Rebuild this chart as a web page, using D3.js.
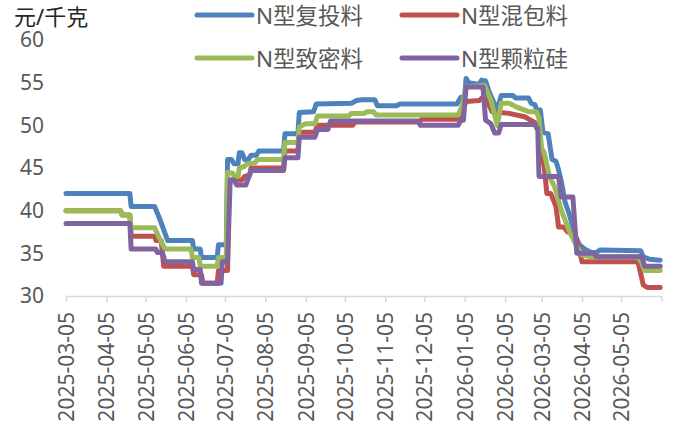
<!DOCTYPE html>
<html>
<head>
<meta charset="utf-8">
<script src="https://cdn.jsdelivr.net/npm/d3@7"></script>
<style>
  html, body { margin: 0; padding: 0; background: #fff; }
  svg text { font-family: "Noto Sans", "Noto Sans CJK SC", sans-serif; }
</style>
</head>
<body>
<svg id="chart" width="675" height="428"></svg>
<script>
// series, [date, price] breakpoints
const fuTouLiao = [
  ["2025-03-05",42],["2025-04-23",42],["2025-04-24",40.5],["2025-05-12",40.5],["2025-05-16",39],
  ["2025-05-22",36.5],["2025-06-10",36.5],["2025-06-11",35.5],["2025-06-16",35.5],["2025-06-17",34.5],
  ["2025-06-29",34.5],["2025-06-30",36],["2025-07-06",36],["2025-07-07",46],["2025-07-10",46],
  ["2025-07-12",45.5],["2025-07-15",45.5],["2025-07-16",46.8],["2025-07-18",46.8],["2025-07-20",46],
  ["2025-07-23",46],["2025-07-25",46.5],["2025-07-29",46.5],["2025-07-31",47],["2025-08-19",47],
  ["2025-08-20",49],["2025-08-30",49],["2025-08-31",51.5],["2025-09-11",51.6],["2025-09-13",52.5],
  ["2025-10-10",52.6],["2025-10-14",52.9],["2025-10-18",53],["2025-10-28",53],["2025-10-30",52.3],
  ["2025-11-14",52.3],["2025-11-16",52.5],["2025-12-30",52.5],["2026-01-02",53.3],["2026-01-05",53.4],
  ["2026-01-06",55.5],["2026-01-08",55],["2026-01-16",54.8],["2026-01-18",55.3],["2026-01-21",55.2],
  ["2026-01-24",53.8],["2026-01-27",52.8],["2026-01-30",51.8],["2026-02-02",53.5],["2026-02-11",53.5],
  ["2026-02-13",53.2],["2026-02-23",53.2],["2026-02-25",52.6],["2026-02-28",52.4],["2026-03-01",51.8],
  ["2026-03-04",51.8],["2026-03-06",49.2],["2026-03-10",49],["2026-03-13",46],["2026-03-16",45.8],
  ["2026-03-18",44.8],["2026-03-20",43.5],["2026-03-23",41],["2026-03-26",39.7],["2026-03-31",37],
  ["2026-04-03",36],["2026-04-07",35.5],["2026-04-12",35.1],["2026-04-16",35.1],["2026-04-19",35.4],
  ["2026-05-20",35.3],["2026-05-22",34.6],["2026-05-27",34.3],["2026-06-04",34.2]
];

const hunBaoLiao = [
  ["2025-03-05",40],["2025-04-16",40],["2025-04-17",39.5],["2025-04-23",39.5],["2025-04-24",37],
  ["2025-05-12",37],["2025-05-13",36.5],["2025-05-17",36.5],["2025-05-19",33.5],["2025-06-10",33.5],
  ["2025-06-11",32.5],["2025-06-17",32.5],["2025-06-18",31.5],["2025-06-29",31.5],["2025-06-30",33],
  ["2025-07-07",33],["2025-07-08",43.6],["2025-07-18",43.6],["2025-07-20",44],["2025-07-24",44.2],
  ["2025-07-25",45],["2025-08-19",45],["2025-08-20",47],["2025-08-30",47],["2025-08-31",49.2],
  ["2025-09-12",49.2],["2025-09-14",50],["2025-10-11",50],["2025-10-13",50.4],["2025-12-01",50.4],
  ["2025-12-03",50.7],["2025-12-31",50.7],["2026-01-02",51.2],["2026-01-06",52.8],["2026-01-16",52.9],
  ["2026-01-19",53.3],["2026-01-21",53.3],["2026-01-26",51.6],["2026-02-08",51.4],["2026-02-20",51],
  ["2026-02-27",50.4],["2026-03-03",50],["2026-03-05",46.3],["2026-03-07",45.2],["2026-03-09",42],
  ["2026-03-12",42],["2026-03-16",40.5],["2026-03-18",38.1],["2026-03-22",38.1],["2026-03-25",37.5],
  ["2026-03-30",37.5],["2026-04-01",36.6],["2026-04-05",34],["2026-05-18",34],["2026-05-22",31.3],
  ["2026-05-25",31],["2026-06-04",31]
];

const zhiMiLiao = [
  ["2025-03-05",40],["2025-04-16",40],["2025-04-17",39.5],["2025-04-23",39.5],["2025-04-24",38],
  ["2025-05-12",38],["2025-05-15",37],["2025-05-20",35.5],["2025-06-09",35.5],["2025-06-10",34.5],
  ["2025-06-15",34.5],["2025-06-16",33.5],["2025-06-29",33.5],["2025-06-30",34.5],["2025-07-06",34.5],
  ["2025-07-07",44.5],["2025-07-11",44.4],["2025-07-12",44],["2025-07-15",44],["2025-07-16",45],
  ["2025-07-20",45.2],["2025-07-22",45.5],["2025-07-28",45.6],["2025-07-30",46],["2025-08-19",46],
  ["2025-08-20",48],["2025-08-30",48],["2025-08-31",49.8],["2025-09-05",50.2],["2025-09-12",50.2],
  ["2025-09-14",51.1],["2025-10-08",51.1],["2025-10-10",51.4],["2025-10-20",51.4],["2025-10-22",51.6],
  ["2025-10-27",51.6],["2025-10-29",51.2],["2025-12-31",51.2],["2026-01-03",52.3],["2026-01-06",54.5],
  ["2026-01-20",54.7],["2026-01-25",53],["2026-01-30",50],["2026-02-02",52.6],["2026-02-08",52.6],
  ["2026-02-13",52.2],["2026-02-23",51.6],["2026-03-01",51.6],["2026-03-03",50.8],["2026-03-05",47.3],
  ["2026-03-07",46.8],["2026-03-11",44],["2026-03-15",42.8],["2026-03-20",40.1],["2026-03-26",37.7],
  ["2026-04-01",35.8],["2026-04-05",34.8],["2026-04-12",34.6],["2026-05-18",34.6],["2026-05-21",33.8],
  ["2026-05-23",33],["2026-06-04",33]
];

const keLiGui = [
  ["2025-03-05",38.5],["2025-04-23",38.5],["2025-04-24",35.5],["2025-05-13",35.5],["2025-05-14",35.1],
  ["2025-05-18",35.1],["2025-05-20",34],["2025-06-10",34],["2025-06-11",33.1],["2025-06-16",33.1],
  ["2025-06-17",31.5],["2025-07-02",31.5],["2025-07-03",34],["2025-07-07",34],["2025-07-09",43.6],
  ["2025-07-12",43.6],["2025-07-14",43],["2025-07-21",43],["2025-07-25",44.7],["2025-08-19",44.7],
  ["2025-08-20",46.2],["2025-08-30",46.2],["2025-08-31",48.6],["2025-09-12",48.6],["2025-09-14",49.5],
  ["2025-09-22",49.5],["2025-09-24",50.5],["2025-11-30",50.5],["2025-12-02",50],["2025-12-31",50],
  ["2026-01-02",50.6],["2026-01-04",50.6],["2026-01-06",54.5],["2026-01-19",54.5],["2026-01-21",50.6],
  ["2026-01-25",50.2],["2026-01-28",49.1],["2026-01-31",49.1],["2026-02-02",50.1],["2026-02-28",50.1],
  ["2026-03-01",49.7],["2026-03-02",49.7],["2026-03-03",44],["2026-03-18",44],["2026-03-20",41.6],
  ["2026-03-29",41.6],["2026-04-01",35],["2026-04-14",35],["2026-04-16",34.6],["2026-05-21",34.6],
  ["2026-05-23",33.5],["2026-06-04",33.5]
];

const seriesNames = ["N型复投料", "N型混包料", "N型致密料", "N型颗粒硅"];
const seriesColors = ["#4F81BD", "#C0504D", "#9BBB59", "#8064A2"];
const yTicks = [30, 35, 40, 45, 50, 55, 60];
const xTickDates = ["2025-03-05","2025-04-05","2025-05-05","2025-06-05","2025-07-05","2025-08-05",
  "2025-09-05","2025-10-05","2025-11-05","2025-12-05","2026-01-05","2026-02-05","2026-03-05",
  "2026-04-05","2026-05-05","2026-06-05"];
const unitLabel = "元/千克";

const parse = d3.timeParse("%Y-%m-%d");
const fmt = d3.timeFormat("%Y-%m-%d");
const svg = d3.select("#chart");

const x = d3.scaleTime()
  .domain([parse("2025-03-05"), parse("2026-06-05")])
  .range([66, 661.5]);
const y = d3.scaleLinear().domain([30, 60]).range([296, 40]);

// x axis: light gray baseline, ticks each month, last one unlabeled
const xTicks = xTickDates.map(parse);
const lastTick = +xTicks[xTicks.length - 1];
const xAxis = svg.append("g")
  .attr("transform", "translate(0,296)")
  .call(d3.axisBottom(x)
    .tickValues(xTicks)
    .tickSize(6)
    .tickSizeOuter(0)
    .tickFormat(d => +d === lastTick ? "" : fmt(d)));
xAxis.select(".domain").attr("stroke", "#d9d9d9").attr("stroke-width", 1.5);
xAxis.selectAll(".tick line").attr("stroke", "#d9d9d9").attr("stroke-width", 1.5);
xAxis.selectAll(".tick text")
  .attr("transform", "rotate(-90)")
  .attr("x", -16)
  .attr("y", 0)
  .attr("dy", "0.36em")
  .attr("text-anchor", "end")
  .attr("fill", "#595959")
  .style("font-size", "21px");

// y axis: labels only
const yAxis = svg.append("g")
  .attr("transform", "translate(44,0)")
  .call(d3.axisLeft(y).tickValues(yTicks).tickSize(0).tickPadding(0));
yAxis.select(".domain").remove();
yAxis.selectAll(".tick text")
  .attr("fill", "#595959")
  .style("font-size", "21px");

svg.append("text")
  .attr("x", 14)
  .attr("y", 16)
  .attr("dominant-baseline", "central")
  .attr("fill", "#262626")
  .style("font-size", "22px")
  .text(unitLabel);

const line = d3.line()
  .x(d => x(parse(d[0])))
  .y(d => y(d[1]));

const allSeries = [fuTouLiao, hunBaoLiao, zhiMiLiao, keLiGui];
svg.append("g")
  .selectAll("path")
  .data(allSeries)
  .join("path")
  .attr("d", line)
  .attr("fill", "none")
  .attr("stroke", (d, i) => seriesColors[i])
  .attr("stroke-width", 5)
  .attr("stroke-linejoin", "round")
  .attr("stroke-linecap", "round");

// legend, two rows by two columns
const legendPos = [[197, 15], [402, 15], [197, 58], [402, 58]];
const legend = svg.append("g")
  .selectAll("g")
  .data(seriesNames)
  .join("g")
  .attr("transform", (d, i) => `translate(${legendPos[i][0]},${legendPos[i][1]})`);
legend.append("line")
  .attr("x1", 0).attr("x2", 55)
  .attr("stroke", (d, i) => seriesColors[i])
  .attr("stroke-width", 5)
  .attr("stroke-linecap", "round");
legend.append("text")
  .attr("x", 59)
  .attr("dominant-baseline", "central")
  .attr("fill", "#595959")
  .style("font-size", "22.5px")
  .text(d => d);
</script>
</body>
</html>
